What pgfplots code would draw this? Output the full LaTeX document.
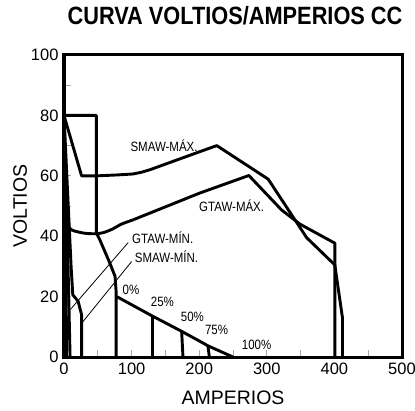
\documentclass[border=0pt]{standalone}
\usepackage{fontspec}
\setmainfont{Liberation Sans}
\newfontfamily\narrowfont{Liberation Sans}[FakeStretch=0.85]
\newfontfamily\titlefont{Liberation Sans}[FakeStretch=0.87]
\usepackage{pgfplots}
\pgfplotsset{compat=1.18}
\begin{document}
\begin{tikzpicture}
\begin{axis}[
  name=main,
  scale only axis, width=338pt, height=302pt,
  xmin=0, xmax=500, ymin=0, ymax=100,
  clip=false,
  axis line style={line width=3pt},
  xtick={0,100,...,500}, minor xtick={50,150,...,450},
  ytick={0,20,...,100}, minor ytick={10,30,...,90},
  tick align=inside, major tick length=7pt, minor tick length=7pt,
  every tick/.style={gray!70, line width=0.7pt},
  every minor tick/.style={gray!70, line width=0.7pt},
  xtick pos=bottom, ytick pos=left,
  /pgf/number format/assume math mode=true,
  ticklabel style={font=\fontsize{16.5}{18}\selectfont},
  xticklabel style={yshift=-2pt},
  yticklabel style={xshift=-2pt},
  xlabel={AMPERIOS}, ylabel={VOLTIOS},
  label style={font=\fontsize{19.5}{22}\selectfont},
  xlabel style={at={(0.5,0)}, anchor=base, yshift=-47pt},
  ylabel style={at={(0,0.5)}, anchor=base, yshift=37pt},
  title={CURVA VOLTIOS/AMPERIOS CC},
  title style={font=\titlefont\fontsize{25}{27}\selectfont\bfseries, at={(0.5,1)}, anchor=base, yshift=24pt, xshift=2pt},
  curve/.style={black, solid, no markers, line width=2.9pt, line join=round, line cap=butt},
  leader/.style={black, solid, no markers, line width=0.8pt},
]
% SMAW-MAX
\addplot[curve] coordinates {(0,80) (26,60) (50,60) (80,60.3) (102,60.6) (115,61.2) (127,62) (201,68) (226,70) (302,58.9) (359,39.5) (400.6,30.5) (412,12.9) (412,0)};
% GTAW-MAX
\addplot[curve, smooth, tension=0.4] coordinates {(3,44) (12,42) (30,41) (48,40.8) (60,41.3) (72,42.4) (85,44) (102,45.4)};
\addplot[curve] coordinates {(102,45.4) (201,54.3) (273.5,60.1) (321.8,48.7) (349,44) (400.6,37.7) (400.6,0)};
% near-axis lines
\addplot[curve] coordinates {(0,87) (2,45) (4,0)};
\addplot[curve] coordinates {(0,80) (5,40) (9,0)};
% SMAW-MIN
\addplot[curve] coordinates {(0,80) (10.5,30) (13,20.6) (21,18.4) (26,14) (26,0)};
% 50 A rectangle / 0% line
\addplot[curve] coordinates {(0,80) (48,80) (48,41) (53,38.8) (68,31) (75.5,26.7) (77,22) (77,0)};
% arc force diagonal
\addplot[curve] coordinates {(78,20) (129.6,13.7) (174,8.5) (201,5.2) (213,3.7) (250,0)};
\addplot[curve] coordinates {(131,13.8) (131,0)};
\addplot[curve] coordinates {(174,8.7) (176,0)};
\addplot[curve] coordinates {(213,3.6) (215,0)};
% leader lines
\addplot[leader] coordinates {(95,37.9) (8.9,15.6)};
\addplot[leader] coordinates {(100,31.6) (26.2,11.2)};
% labels
\begin{scope}[every node/.style={font=\narrowfont\fontsize{13.5}{15}\selectfont, inner sep=0pt}]
\node at (axis cs:148,70) {SMAW-MÁX.};
\node at (axis cs:248,50) {GTAW-MÁX.};
\node at (axis cs:146,39.5) {GTAW-MÍN.};
\node at (axis cs:151.7,33.3) {SMAW-MÍN.};
\node at (axis cs:99,22.3) {0\%};
\node at (axis cs:145.6,18.3) {25\%};
\node at (axis cs:190,13.4) {50\%};
\node at (axis cs:225.6,9) {75\%};
\node at (axis cs:285,4) {100\%};
\end{scope}
\end{axis}
\draw[line width=3pt, line join=miter] (main.south west) rectangle (main.north east);
\pgfresetboundingbox
\path (-64pt,-53pt) rectangle (351pt,357pt);
\end{tikzpicture}
\end{document}
